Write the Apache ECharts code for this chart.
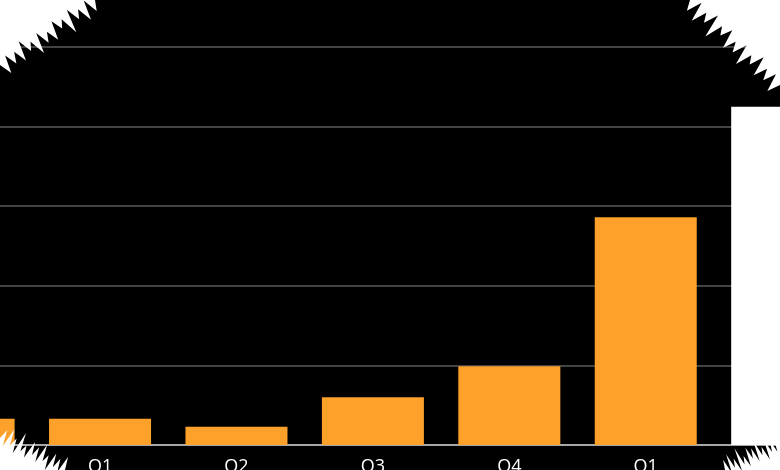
<!DOCTYPE html>
<html>
<head>
<meta charset="utf-8">
<script src="https://cdn.jsdelivr.net/npm/echarts@6/dist/echarts.min.js"></script>
<style>
  html, body { margin: 0; padding: 0; background: #000; }
  #main { width: 780px; height: 470px; }
</style>
</head>
<body>
<div id="main"></div>
<script>
// quarters (first and last are cut off by the frame)
const quarters = ['Q4', 'Q1', 'Q2', 'Q3', 'Q4', 'Q1', 'Q2'];
const values = [0.33, 0.33, 0.23, 0.60, 0.99, 2.86, 4.25];
const yTicks = [0, 1, 2, 3, 4, 5];

// rough brush edge for the corners, offsets are hand picked
const jagOffsets = [0, 10, -6, 14, -2, 7, -8, 16, -3, 5, -7, 12, -1, 9, -6, 15, -2, 6, -9, 11, -3, 8, -5, 13, 0];

function cornerShape(corner, a, b) {
  const pts = [corner, a];
  const dx = b[0] - a[0], dy = b[1] - a[1];
  const len = Math.sqrt(dx * dx + dy * dy);
  // unit normal pointing away from the corner
  let nx = -dy / len, ny = dx / len;
  const mx = (a[0] + b[0]) / 2, my = (a[1] + b[1]) / 2;
  if ((mx - corner[0]) * nx + (my - corner[1]) * ny < 0) { nx = -nx; ny = -ny; }
  const n = jagOffsets.length;
  for (let i = 1; i < n - 1; i++) {
    const t = i / (n - 1);
    const o = jagOffsets[i];
    pts.push([a[0] + dx * t + nx * o, a[1] + dy * t + ny * o]);
  }
  pts.push(b);
  return {
    type: 'polygon',
    z: 100,
    silent: true,
    shape: { points: pts },
    style: { fill: '#fff' }
  };
}

const chart = echarts.init(document.getElementById('main'));

const option = {
  backgroundColor: '#000',
  animation: false,
  grid: {
    left: -104.6,
    right: -70.4,
    top: 47,
    bottom: 25,
    containLabel: false,
    outerBoundsMode: 'none'
  },
  xAxis: {
    type: 'category',
    data: quarters,
    axisLine: { lineStyle: { color: '#c8c8c8', width: 1.5 } },
    axisTick: { alignWithLabel: true, length: 7, lineStyle: { color: '#c8c8c8', width: 1.5 } },
    axisLabel: {
      color: '#fff',
      fontSize: 18,
      fontFamily: 'Open Sans',
      margin: 13
    }
  },
  yAxis: {
    type: 'value',
    min: yTicks[0],
    max: yTicks[yTicks.length - 1],
    interval: 1,
    axisLine: { show: false },
    axisTick: { show: false },
    axisLabel: { show: false },
    splitLine: { lineStyle: { color: '#5a5a5a', width: 1.5 } }
  },
  series: [
    {
      type: 'bar',
      barWidth: 102,
      data: values,
      itemStyle: {
        color: function (p) {
          return p.dataIndex === values.length - 1 ? '#ffffff' : '#fda12b';
        }
      }
    }
  ],
  graphic: [
    cornerShape([0, 0], [95, 0], [0, 65]),
    cornerShape([780, 0], [690, 0], [780, 85]),
    cornerShape([0, 470], [0, 438], [65, 470]),
    cornerShape([780, 470], [725, 470], [780, 445])
  ]
};

chart.setOption(option);
</script>
</body>
</html>
